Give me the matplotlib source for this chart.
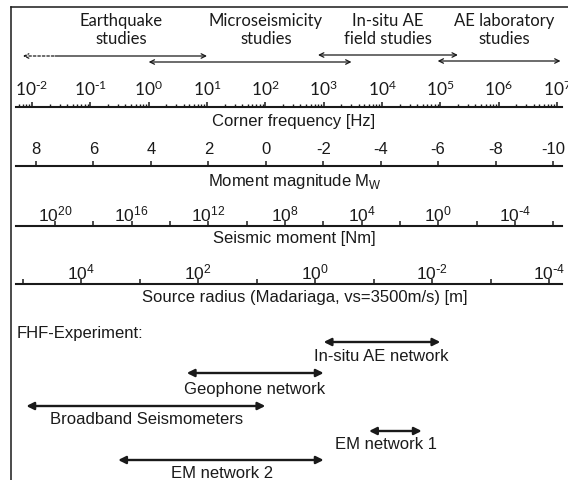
import numpy as np
import matplotlib
matplotlib.use('Agg')
import matplotlib.pyplot as plt
from matplotlib.transforms import Affine2D
from matplotlib.ticker import LogLocator, NullFormatter, NullLocator

# study ranges on the corner frequency scale [Hz]
study_names = ['Earthquake\nstudies', 'Microseismicity\nstudies',
               'In-situ AE\nfield studies', 'AE laboratory\nstudies']
study_ranges = [(0.025, 10), (1, 3000), (800, 200000), (90000, 1.15e7)]
quake_extension = (0.007, 0.025)   # dashed part of the earthquake range

# FHF experiment networks [Hz]
network_names = ['In-situ AE network', 'Geophone network', 'Broadband Seismometers',
                 'EM network 1', 'EM network 2']
network_ranges = [(1000, 100000), (4.5, 1000), (0.008, 100), (6000, 48000), (0.3, 1000)]

# scales
freq_exponents = np.arange(-2, 8)
mw_values = np.arange(8, -11, -2)
moment_exponents = np.arange(20, -7, -2)
moment_labelled = [20, 16, 12, 8, 4, 0, -4]
radius_exponents = np.arange(5, -5, -1)
radius_labelled = [4, 2, 0, -2, -4]

W, H = 568, 480
INK = '#1a1a1a'
SANS = 'Liberation Sans'
MYRIAD = 'Lato'

fig = plt.figure(figsize=(W / 100, H / 100), dpi=100)
pix = Affine2D().scale(1 / W, -1 / H).translate(0, 1) + fig.transFigure


def rect(x0, y0, x1, y1):
    return [x0 / W, 1 - y1 / H, (x1 - x0) / W, (y1 - y0) / H]


def freq_at(px):
    # 10^-2 sits at x=32 px, 58.33 px per decade
    return 10 ** (-2 + (px - 32) / 58.33)


def power(e):
    s = str(e).replace('-', r'\text{-}')
    return r'$\mathregular{10^{%s}}$' % s


# overlay axes: log frequency in x, pixel rows in y, framed left and top
ax = fig.add_axes(rect(11, 7, 568, 480))
ax.set_xscale('log')
ax.set_xlim(freq_at(11), freq_at(568))
ax.set_ylim(480, 7)
ax.set_xticks([])
ax.set_yticks([])
ax.xaxis.set_minor_locator(NullLocator())
for side in ['right', 'bottom']:
    ax.spines[side].set_visible(False)
for side in ['left', 'top']:
    ax.spines[side].set_linewidth(1.1)
    ax.spines[side].set_color(INK)
ax.patch.set_visible(False)


def scale_axis(y, lo, hi, scale):
    a = fig.add_axes(rect(16, y - 0.5, 562, y + 0.5))
    a.set_xscale(scale)
    a.set_xlim(lo, hi)
    a.set_yticks([])
    a.patch.set_visible(False)
    for side in ['left', 'right', 'bottom']:
        a.spines[side].set_visible(False)
    a.spines['top'].set_linewidth(1.5)
    a.spines['top'].set_color(INK)
    a.xaxis.tick_top()
    return a


# corner frequency
a_f = scale_axis(107, freq_at(16), freq_at(562), 'log')
a_f.set_xticks(10.0 ** freq_exponents)
a_f.set_xticklabels([power(e) for e in freq_exponents])
a_f.xaxis.set_minor_locator(LogLocator(base=10, subs=np.arange(2, 10), numticks=50))
a_f.xaxis.set_minor_formatter(NullFormatter())
a_f.tick_params(which='major', length=3.5, width=1.1, pad=2, colors=INK,
                labelsize=12.5, labelfontfamily=MYRIAD)
a_f.tick_params(which='minor', length=2, width=1.0, colors=INK)

# moment magnitude
a_m = scale_axis(166, 8 + 20 / 28.72, -10 - 9 / 28.72, 'linear')
a_m.set_xticks(mw_values)
a_m.set_xticklabels([str(v) for v in mw_values])
a_m.tick_params(length=3.5, width=1.1, pad=2.5, colors=INK, labelsize=12,
                labelfontfamily=SANS)

# seismic moment
a_s = scale_axis(226, 10 ** (20 + 39 / 19.167), 10 ** (-4 - 47 / 19.167), 'log')
a_s.set_xticks(10.0 ** moment_exponents)
a_s.set_xticklabels([power(e) if e in moment_labelled else '' for e in moment_exponents])
a_s.xaxis.set_minor_locator(NullLocator())
a_s.tick_params(length=3.5, width=1.1, pad=-3, colors=INK, labelsize=12.5,
                labelfontfamily=SANS)

# source radius
a_r = scale_axis(284, 10 ** (4 + 65 / 58.5), 10 ** (-4 - 13 / 58.5), 'log')
a_r.set_xticks(10.0 ** radius_exponents)
a_r.set_xticklabels([power(e) if e in radius_labelled else '' for e in radius_exponents])
a_r.xaxis.set_minor_locator(NullLocator())
a_r.tick_params(length=3.5, width=1.1, pad=-3, colors=INK, labelsize=12.5,
                labelfontfamily=SANS)

# axis titles
fig.text(294, 114, 'Corner frequency [Hz]', transform=pix, ha='center', va='top',
         fontsize=12, family=SANS, color=INK)
fig.text(295, 172, r'Moment magnitude M$_\mathregular{W}$', transform=pix, ha='center',
         va='top', fontsize=12, family=SANS, color=INK)
fig.text(294, 231, 'Seismic moment [Nm]', transform=pix, ha='center', va='top',
         fontsize=12, family=SANS, color=INK)
fig.text(305, 290, 'Source radius (Madariaga, vs=3500m/s) [m]', transform=pix,
         ha='center', va='top', fontsize=12, family=SANS, color=INK)

# study ranges (top)
study_x = [121, 266, 388, 504]
study_y = [56, 62, 55, 61]
for name, (f0, f1), x, y in zip(study_names, study_ranges, study_x, study_y):
    fig.text(x, 13, name, transform=pix, ha='center', va='top', fontsize=12,
             family=MYRIAD, color=INK, linespacing=1.15)
    style = '->' if name.startswith('Earthquake') else '<->'
    ax.annotate('', xy=(f1, y), xytext=(f0, y),
                arrowprops=dict(arrowstyle=style, lw=0.9, color=INK,
                                shrinkA=0, shrinkB=0, mutation_scale=8))
ax.annotate('', xy=(quake_extension[1], study_y[0]), xytext=(quake_extension[0], study_y[0]),
            arrowprops=dict(arrowstyle='<-', lw=0.9, color=INK, linestyle=(0, (2, 1.6)),
                            shrinkA=0, shrinkB=0, mutation_scale=8))

# FHF experiment networks (bottom)
fig.text(17, 326, 'FHF-Experiment:', transform=pix, ha='left', va='top',
         fontsize=12, family=SANS, color=INK)
network_y = [342, 373, 406, 431, 460]
label_x = [381, 255, 147, 386, 222]
label_y = [349, 382, 412, 437, 466]
for name, (f0, f1), y, lx, ly in zip(network_names, network_ranges, network_y, label_x, label_y):
    ax.annotate('', xy=(f1, y), xytext=(f0, y),
                arrowprops=dict(arrowstyle='<|-|>', lw=1.7, color=INK,
                                shrinkA=0, shrinkB=0, mutation_scale=11))
    fig.text(lx, ly, name, transform=pix, ha='center', va='top', fontsize=12,
             family=SANS, color=INK)

fig.savefig('out.png', dpi=100)
